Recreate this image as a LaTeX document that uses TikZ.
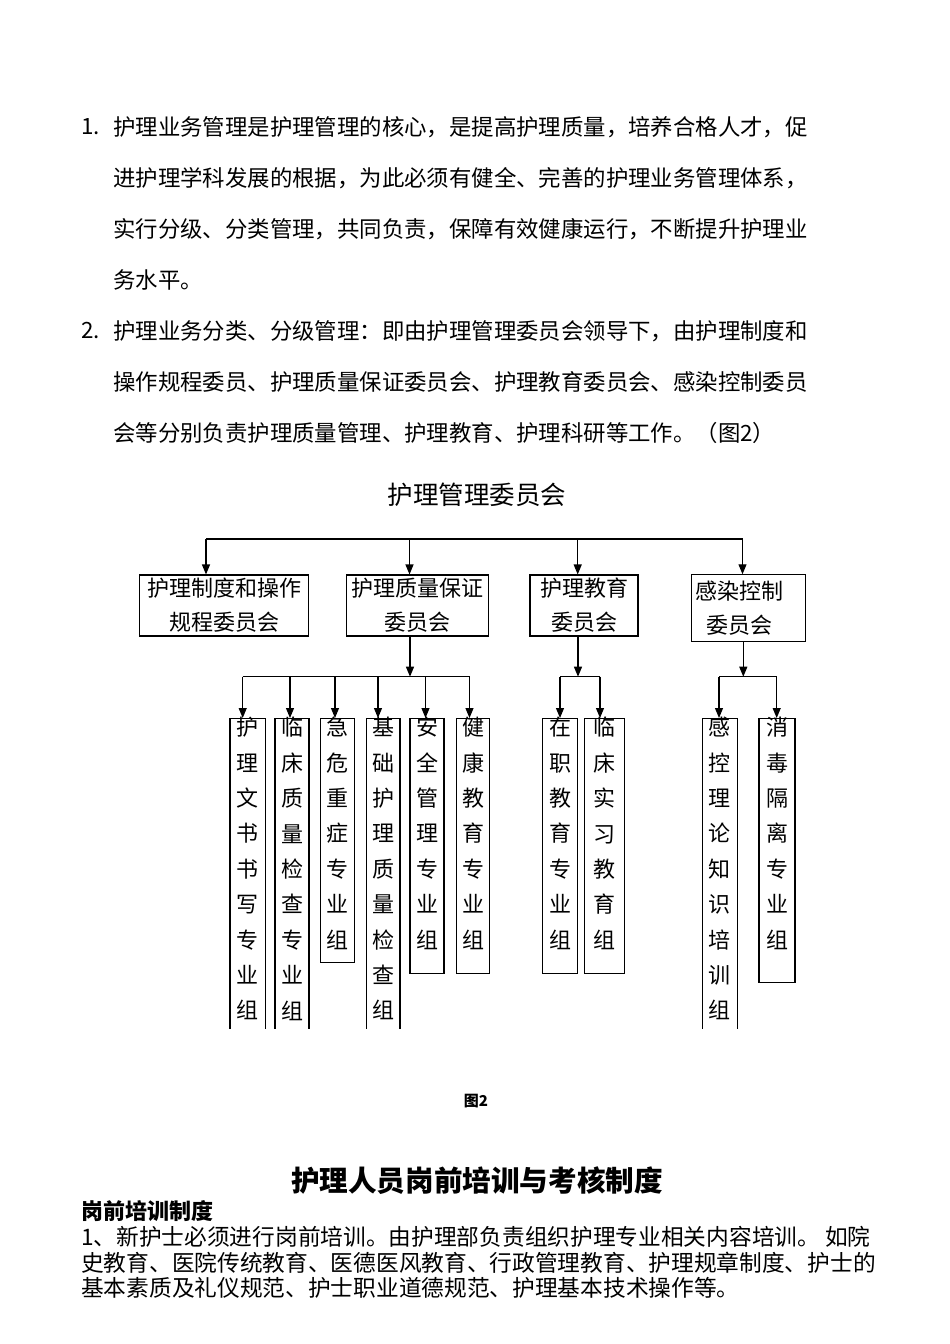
\documentclass[tikz,border=0pt]{standalone}
\usepackage{fontspec}
\newfontfamily\cjk{Noto Sans CJK SC}
\usetikzlibrary{positioning, arrows.meta}
\tikzset{
	bodytext/.style={anchor=west, inner sep=0pt, font=\cjk\fontsize{22.4}{22.4}\selectfont}
}
\tikzset{
	topbox/.style={draw, line width=1.1pt, inner sep=0pt, align=center, font=\cjk\fontsize{22}{34}\selectfont}
}
\tikzset{
	colbox/.style={draw, line width=1.1pt, inner sep=0pt, anchor=north},
	coltext/.style={anchor=north, inner sep=0pt, align=center, font=\cjk\fontsize{22}{35.4}\selectfont},
	busline/.style={line width=1.1pt},
	arrline/.style={line width=1.1pt, -{Triangle[length=10pt,width=8pt]}}
}

\begin{document}
\begin{tikzpicture}[x=1pt, y=-1pt]
      \fill[white] (0,0) rectangle (950,1344);
      \useasboundingbox (0,0) rectangle (950,1344);

      % paragraph 1
      \node[bodytext] (num1) at (81,127) {1.};
      \foreach \ly/\lt [count=\i] in {
          127/{护理业务管理是护理管理的核心，是提高护理质量，培养合格人才，促},
          178/{进护理学科发展的根据，为此必须有健全、完善的护理业务管理体系，},
          229/{实行分级、分类管理，共同负责，保障有效健康运行，不断提升护理业},
          280/{务水平。}} {
        \node[bodytext] (parA\i) at (113,\ly) {\lt};
      }

      % paragraph 2
      \node[bodytext] (num2) at (81,331) {2.};
      \foreach \ly/\lt [count=\i] in {
          331/{护理业务分类、分级管理：即由护理管理委员会领导下，由护理制度和},
          382/{操作规程委员、护理质量保证委员会、护理教育委员会、感染控制委员},
          433/{会等分别负责护理质量管理、护理教育、护理科研等工作。（图2）}} {
        \node[bodytext] (parB\i) at (113,\ly) {\lt};
      }

      % committee chart: top level
      \node[inner sep=0pt, font=\cjk\fontsize{25.5}{25.5}\selectfont] (weiyuanhui) at (477,495) {护理管理委员会};

      \node[topbox, minimum width=169pt, minimum height=61pt] (zhidu) at (224,605.5) {护理制度和操作\\规程委员会};
      \node[topbox, minimum width=142pt, minimum height=61pt] (zhiliang) at (417.5,605.5) {护理质量保证\\委员会};
      \node[topbox, minimum width=108pt, minimum height=61pt] (jiaoyu) at (584,605.5) {护理教育\\委员会};
      \node[topbox, minimum width=114pt, minimum height=67pt] (ganran) at (748.8,608.3) {};
      \node[inner sep=0pt, align=center, font=\cjk\fontsize{22}{34}\selectfont] (ganran-txt) at ([xshift=-9pt]ganran.center) {感染控制\\委员会};

      \coordinate (busL) at (206,539);
      \coordinate (busR) at (742.5,539);
      \draw[busline] (busL) -- (busR);
      \foreach \ax/\nm in {206/zhidu, 409.5/zhiliang, 577.7/jiaoyu, 742.5/ganran}
        \draw[arrline] (\ax,539) -- (\ax,539 |- \nm.north);

      % second level columns: name/x/width/height/text
      \begin{scope}
        \clip (0,0) rectangle (950,1028);
        \foreach \nm/\cx/\bw/\bh/\txt in {
            wenshu/247.7/35.5/330/{护\\理\\文\\书\\书\\写\\专\\业\\组},
            linchuang/292/34/330/{临\\床\\质\\量\\检\\查\\专\\业\\组},
            jiwei/337.5/33.6/244/{急\\危\\重\\症\\专\\业\\组},
            jichu/383.3/33.3/330/{基\\础\\护\\理\\质\\量\\检\\查\\组},
            anquan/427/34/255/{安\\全\\管\\理\\专\\业\\组},
            jiankang/473/32.6/255/{健\\康\\教\\育\\专\\业\\组},
            zaizhi/560/34.6/255/{在\\职\\教\\育\\专\\业\\组},
            shixi/604.3/40/255/{临\\床\\实\\习\\教\\育\\组},
            ganzhi/719.8/35/330/{感\\控\\理\\论\\知\\识\\培\\训\\组},
            xiaodu/777/36/264/{消\\毒\\隔\\离\\专\\业\\组}} {
          \node[colbox, minimum width=\bw pt, minimum height=\bh pt] (\nm) at (\cx,718) {};
          \node[coltext] (\nm-txt) at ([yshift=1pt]\nm.north) {\txt};
        }
      \end{scope}

      % branch under quality committee
      \coordinate (zlbus) at (410,676.7);
      \coordinate (zlL) at (242.7,676.7);
      \coordinate (zlR) at (469.5,676.7);
      \draw[arrline] (zlbus |- zhiliang.south) -- (zlbus);
      \draw[busline] (zlL) -- (zlR);
      \foreach \ax/\nm in {242.7/wenshu, 290/linchuang, 335/jiwei, 378/jichu, 425.5/anquan, 469.5/jiankang}
        \draw[arrline] (\ax,676.7) -- (\ax,676.7 |- \nm.north);

      % branch under education committee
      \coordinate (jybus) at (578,676.7);
      \coordinate (jyL) at (560,676.7);
      \coordinate (jyR) at (600,676.7);
      \draw[arrline] (jybus |- jiaoyu.south) -- (jybus);
      \draw[busline] (jyL) -- (jyR);
      \foreach \ax/\nm in {560/zaizhi, 600/shixi}
        \draw[arrline] (\ax,676.7) -- (\ax,676.7 |- \nm.north);

      % branch under infection committee
      \coordinate (grbus) at (743.3,676.7);
      \coordinate (grL) at (719,676.7);
      \coordinate (grR) at (776.7,676.7);
      \draw[arrline] (grbus |- ganran.south) -- (grbus);
      \draw[busline] (grL) -- (grR);
      \foreach \ax/\nm in {719/ganzhi, 776.7/xiaodu}
        \draw[arrline] (\ax,676.7) -- (\ax,676.7 |- \nm.north);

      % caption and next section
      \node[inner sep=0pt, font=\cjk\bfseries\fontsize{15}{15}\selectfont] (tu2) at (476,1101) {图2};
      \node[inner sep=0pt, font=\cjk\bfseries\fontsize{28.6}{28.6}\selectfont] (gangqian) at (477,1181) {护理人员岗前培训与考核制度};
      \node[bodytext, font=\cjk\bfseries\fontsize{22}{22}\selectfont] (peixun) at (81,1211) {岗前培训制度};
      \foreach \ly/\lt [count=\i] in {
          1237/{1、新护士必须进行岗前培训。由护理部负责组织护理专业相关内容培训。 如院},
          1263/{史教育、医院传统教育、医德医风教育、行政管理教育、护理规章制度、护士的},
          1288/{基本素质及礼仪规范、护士职业道德规范、护理基本技术操作等。}} {
        \node[bodytext, font=\cjk\fontsize{22.7}{22.7}\selectfont] (parC\i) at (81,\ly) {\lt};
      }
\end{tikzpicture}
\end{document}
